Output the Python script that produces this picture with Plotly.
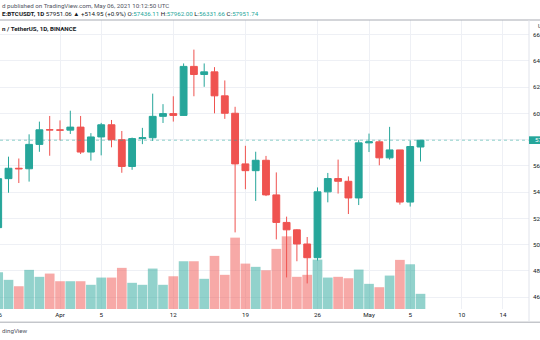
import pandas as pd
import plotly.graph_objects as go

# ---------------- data (BINANCE BTCUSDT, 1D) ----------------
dates = ["2021-03-26", "2021-03-27", "2021-03-28", "2021-03-29", "2021-03-30", "2021-03-31",
         "2021-04-01", "2021-04-02", "2021-04-03", "2021-04-04", "2021-04-05", "2021-04-06",
         "2021-04-07", "2021-04-08", "2021-04-09", "2021-04-10", "2021-04-11", "2021-04-12",
         "2021-04-13", "2021-04-14", "2021-04-15", "2021-04-16", "2021-04-17", "2021-04-18",
         "2021-04-19", "2021-04-20", "2021-04-21", "2021-04-22", "2021-04-23", "2021-04-24",
         "2021-04-25", "2021-04-26", "2021-04-27", "2021-04-28", "2021-04-29", "2021-04-30",
         "2021-05-01", "2021-05-02", "2021-05-03", "2021-05-04", "2021-05-05", "2021-05-06"]
opens = [51293, 55025, 55817, 55777, 57635, 58746, 58740, 58720, 58950, 57051, 58202, 59129,
         57991, 55953, 58077, 58142, 59770, 59979, 59841, 63576, 62959, 63159, 61334, 60006,
         56150, 55633, 56425, 53787, 51690, 51125, 50047, 49004, 54021, 55033, 54824, 53555,
         57750, 57828, 56610, 57213, 53241, 57436]
highs = [55073, 56700, 56559, 58400, 59368, 59800, 59462, 60200, 59800, 58492, 59272, 59495,
         58655, 58153, 58894, 61500, 60700, 61300, 63800, 64854, 63800, 63520, 62506, 60499,
         57526, 57076, 56757, 55500, 52131, 51166, 50580, 54356, 55460, 56476, 55195, 57963,
         58458, 57939, 58969, 57214, 57912, 57962]
lows = [51226, 53950, 54691, 54800, 57071, 56770, 57935, 58428, 56900, 56400, 56800, 57413,
        55473, 55700, 57654, 57900, 59266, 59372, 59800, 61301, 62020, 60000, 59580, 50931,
        54221, 53329, 53696, 50400, 47500, 48733, 47044, 48790, 53222, 53888, 52330, 53013,
        57052, 56044, 56478, 53046, 52900, 56331]
closes = [55025, 55817, 55777, 57635, 58746, 58740, 58720, 58950, 57051, 58202, 59129, 57991,
          55953, 58077, 58142, 59770, 59979, 59841, 63576, 62959, 63159, 61334, 60006, 56150,
          55633, 56425, 53787, 51690, 51125, 50047, 49004, 54021, 55033, 54824, 53555, 57750,
          57828, 56610, 57213, 53241, 57473, 57951.74]
volumes = [64400, 51100, 39900, 68600, 56400, 62100, 48700, 48700, 48700, 42400, 55100, 55100,
           72100, 45900, 42400, 70900, 42400, 57400, 83700, 83700, 52900, 93100, 59900, 125100,
           79600, 73900, 67900, 105400, 127400, 56400, 59900, 86600, 55100, 56400, 53900, 69100,
           44100, 38200, 58600, 86100, 78400, 26600]
price_ticks = [46000, 48000, 50000, 52000, 54000, 56000, 58000, 60000, 62000, 64000, 66000]
date_tickvals = ["2021-04-01", "2021-04-05", "2021-04-12", "2021-04-19", "2021-04-26",
                 "2021-05-01", "2021-05-05", "2021-05-10", "2021-05-14"]
date_ticktext = ["Apr", "5", "12", "19", "26", "May", "5", "10", "14"]
first_tick_val = "2021-03-26"
first_tick_text = "26"
last_price = 57951.74

header1 = "d published on TradingView.com, May 06, 2021 10:12:50 UTC"
header2 = ("<b>E:BTCUSDT, 1D</b> 57951.06 \u25b2 +514.95 (+0.9%) "
           "O:<span style='color:#26a69a'>57436.11</span> "
           "H:<span style='color:#26a69a'>57962.00</span> "
           "L:<span style='color:#26a69a'>56331.66</span> "
           "C:<span style='color:#26a69a'>57951.74</span>")
pane_title = "<b>n / TetherUS, 1D, BINANCE</b>"
watermark = "dingView"

# ---------------- geometry ----------------
W, H = 540, 340
PL, PR, PT, PB = 0, 529, 20, 309.5
PX_PER_DAY = 10.3
APR1_PX = 60
PX_PER_1000 = 13.15
P66_PX = 34.6
VOL_PER_PX = 1750

UP, DOWN = "#26a69a", "#ef5350"
UP_V, DOWN_V = "rgba(38,166,154,0.5)", "rgba(239,83,80,0.5)"
GRID = "#eef0f5"
FONT = "Roboto"
FS = 6.2


def px_x(x):
    return (x - PL) / (PR - PL)


def px_y(y):
    return (PB - y) / (PB - PT)


x0 = pd.Timestamp("2021-04-01") - pd.Timedelta(days=APR1_PX / PX_PER_DAY)
x1 = x0 + pd.Timedelta(days=(PR - PL) / PX_PER_DAY)
p_top = 66000 + (P66_PX - PT) / PX_PER_1000 * 1000
p_bot = 66000 - (PB - P66_PX) / PX_PER_1000 * 1000

vol_colors = [UP_V if c >= o else DOWN_V for o, c in zip(opens, closes)]
# the 58000 tick label is hidden behind the last-price badge
price_ticktext = ["" if abs(v - last_price) < 1000 else f"{v:.2f}" for v in price_ticks]

fig = go.Figure()
fig.add_trace(go.Bar(x=dates, y=volumes, marker=dict(color=vol_colors, line=dict(width=0)),
                     yaxis="y", showlegend=False, hoverinfo="skip"))
fig.add_trace(go.Candlestick(
    x=dates, open=opens, high=highs, low=lows, close=closes, yaxis="y2",
    increasing=dict(line=dict(color=UP, width=1), fillcolor=UP),
    decreasing=dict(line=dict(color=DOWN, width=1), fillcolor=DOWN),
    whiskerwidth=0, showlegend=False, hoverinfo="skip"))

first_px = APR1_PX + (pd.Timestamp(first_tick_val) - pd.Timestamp("2021-04-01")).days * PX_PER_DAY

fig.update_layout(
    width=W, height=H,
    margin=dict(l=PL, r=W - PR, t=PT, b=H - PB, pad=0, autoexpand=False),
    paper_bgcolor="white", plot_bgcolor="white",
    font=dict(family=FONT, size=FS, color="#131722"),
    bargap=0.06, boxgap=0.3, boxgroupgap=0.05,
    xaxis=dict(range=[x0, x1], type="date", tickvals=date_tickvals, ticktext=date_ticktext,
               showgrid=True, gridcolor=GRID, gridwidth=1, zeroline=False, showline=False,
               ticks="", tickfont=dict(size=FS, color="#131722"), ticklabelstandoff=1,
               rangeslider=dict(visible=False), fixedrange=True),
    yaxis=dict(range=[0, (PB - PT) * VOL_PER_PX], visible=False, showgrid=False, fixedrange=True),
    yaxis2=dict(range=[p_bot, p_top], overlaying="y", side="right", anchor="x",
                tickvals=price_ticks, ticktext=price_ticktext, showgrid=True, gridcolor=GRID,
                zeroline=False, showline=False, ticks="", ticklabelstandoff=3,
                tickfont=dict(size=FS, color="#131722"), fixedrange=True),
    shapes=[
        dict(type="line", xref="paper", yref="y2", x0=0, x1=1, y0=last_price, y1=last_price,
             line=dict(color="rgba(38,166,154,0.5)", width=1, dash="dot")),
        dict(type="line", xref="paper", yref="paper", x0=px_x(0), x1=px_x(W), y0=px_y(20),
             y1=px_y(20), line=dict(color="#a8abb3", width=1)),
        dict(type="line", xref="paper", yref="paper", x0=px_x(0), x1=px_x(W), y0=px_y(322.7),
             y1=px_y(322.7), line=dict(color="#a8abb3", width=1)),
        dict(type="line", xref="paper", yref="paper", x0=px_x(PR), x1=px_x(PR), y0=px_y(322),
             y1=px_y(20), line=dict(color="#e0e3eb", width=1)),
        dict(type="rect", xref="paper", yref="paper", x0=px_x(PR), x1=px_x(W),
             y0=px_y(144.2), y1=px_y(136.5), fillcolor=UP, line=dict(width=0)),
    ],
    annotations=[
        dict(text=header1, xref="paper", yref="paper", x=px_x(0), y=px_y(5.8), xanchor="left",
             yanchor="middle", showarrow=False, font=dict(size=FS, color="#50535e")),
        dict(text=header2, xref="paper", yref="paper", x=px_x(0), y=px_y(14), xanchor="left",
             yanchor="middle", showarrow=False, font=dict(size=FS, color="#131722")),
        dict(text=pane_title, xref="paper", yref="paper", x=px_x(0), y=px_y(29), xanchor="left",
             yanchor="middle", showarrow=False, font=dict(size=FS, color="#131722")),
        dict(text=watermark, xref="paper", yref="paper", x=px_x(0), y=px_y(331.7), xanchor="left",
             yanchor="middle", showarrow=False, font=dict(size=FS, color="#50535e")),
        dict(text=first_tick_text, xref="paper", yref="paper", x=px_x(first_px), y=px_y(315.8),
             xanchor="center", yanchor="middle", showarrow=False, font=dict(size=FS, color="#131722")),
        dict(text=f"{last_price:.2f}", xref="paper", yref="y2", x=px_x(533), y=last_price,
             xanchor="left", yanchor="middle", showarrow=False, font=dict(size=FS, color="white")),
        dict(text="U", xref="paper", yref="paper", x=px_x(535.5), y=px_y(26), xanchor="left",
             yanchor="middle", showarrow=False, font=dict(size=FS - 1, color="#131722")),
    ],
)

fig.write_html("out.html", config=dict(displayModeBar=False, staticPlot=True))
